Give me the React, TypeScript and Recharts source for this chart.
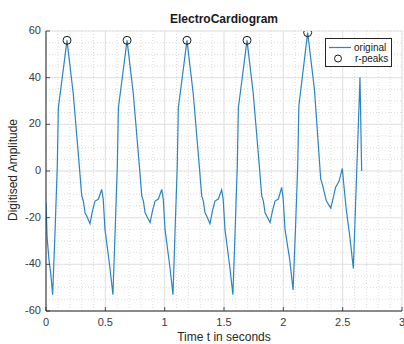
import { ComposedChart, Line, Scatter, XAxis, YAxis, CartesianGrid } from "recharts";

// ECG trace (seconds, digitised amplitude)
const ecgTime = [
  0.0, 0.01, 0.025, 0.04, 0.056,
  0.077, 0.095, 0.104, 0.177, 0.23, 0.281, 0.301, 0.315, 0.329, 0.343, 0.371, 0.392, 0.413, 0.441, 0.469, 0.482, 0.497, 0.537, 0.564,
  0.583, 0.601, 0.61, 0.683, 0.736, 0.787, 0.807, 0.821, 0.835, 0.849, 0.877, 0.898, 0.919, 0.947, 0.975, 0.988, 1.003, 1.043, 1.07,
  1.088, 1.106, 1.115, 1.188, 1.241, 1.292, 1.312, 1.326, 1.34, 1.354, 1.382, 1.403, 1.424, 1.452, 1.48, 1.493, 1.508, 1.548, 1.575,
  1.594, 1.612, 1.621, 1.694, 1.747, 1.798, 1.818, 1.832, 1.846, 1.86, 1.888, 1.909, 1.93, 1.958, 1.986, 1.999, 2.014, 2.054, 2.082,
  2.103, 2.121, 2.131, 2.205, 2.262, 2.315, 2.332, 2.352, 2.363, 2.4, 2.427, 2.44, 2.47, 2.497, 2.51, 2.53, 2.56, 2.59, 2.646, 2.66,
];
const ecgAmp = [
  -13.6, -29, -38, -44, -53,
  -25, 2, 27, 56, 33, 2, -10.7, -12.9, -17.9, -19.3, -22.6, -17, -12.9, -12.1, -7.9, -12, -25, -40.7, -53,
  -25, 2, 27, 56, 33, 2, -10.7, -12.9, -17.9, -19.3, -22.1, -17, -12.9, -12, -7.9, -12, -25, -40.7, -53,
  -25, 2, 27, 56, 33, 2, -10.7, -12.9, -17.9, -19.3, -22.6, -17, -12.9, -12, -8.1, -12, -25, -40.7, -53,
  -25, 2, 27, 56, 33, 2, -10.7, -12.9, -17.9, -19.3, -22.1, -17, -12.9, -12, -7, -12, -25, -38, -51,
  -24, 2, 28, 59.3, 35, -3.4, -6.4, -10.7, -12.9, -15.9, -10, -7.1, -4.3, 1.1, -6, -16.4, -28, -41.8, 40.2, 0,
];

// detected r-peaks
const peakTime = [0.177, 0.683, 1.188, 1.694, 2.205];
const peakAmp = [56, 56, 56, 56, 59.3];

const xTicks = [0, 0.5, 1, 1.5, 2, 2.5, 3];
const yTicks = [-60, -40, -20, 0, 20, 40, 60];

const ecgData = ecgTime.map((t, i) => ({ t, amp: ecgAmp[i] }));
const peakData = peakTime.map((t, i) => ({ t, amp: peakAmp[i] }));

// minor grid (every 0.1 s and every 5 units)
const minorX = Array.from({ length: 31 }, (_, i) => i / 10);
const minorY = Array.from({ length: 25 }, (_, i) => -60 + i * 5);

const FONT = "'Liberation Sans', Arial, Helvetica, sans-serif";
const AX = "#262626";
const TXT = "#3a3a3a";
const BLUE = "#2b85c0";

function BottomTick({ x, y, payload }: any) {
  return (
    <g>
      <line x1={x} x2={x} y1={y} y2={y - 4} stroke={AX} strokeWidth={0.8} />
      <text x={x} y={y + 12} textAnchor="middle" dominantBaseline="middle" fontSize={11} fill={TXT} fontFamily={FONT}>
        {payload.value}
      </text>
    </g>
  );
}

function TopTick({ x, y }: any) {
  return <line x1={x} x2={x} y1={y} y2={y + 4} stroke={AX} strokeWidth={0.8} />;
}

function LeftTick({ x, y, payload }: any) {
  return (
    <g>
      <line x1={x} x2={x + 4} y1={y} y2={y} stroke={AX} strokeWidth={0.8} />
      <text x={x - 5} y={y} textAnchor="end" dominantBaseline="middle" fontSize={11} fill={TXT} fontFamily={FONT}>
        {payload.value}
      </text>
    </g>
  );
}

function RightTick({ x, y }: any) {
  return <line x1={x} x2={x - 4} y1={y} y2={y} stroke={AX} strokeWidth={0.8} />;
}

function PeakMarker({ cx, cy }: any) {
  return <circle cx={cx} cy={cy} r={4} fill="none" stroke="#1a1a1a" strokeWidth={1} />;
}

export default function App() {
  return (
    <div style={{ position: "relative", width: 404, height: 344, background: "#fff", fontFamily: FONT }}>
      <style>{"body{margin:0}"}</style>
      <ComposedChart width={404} height={344} data={ecgData} margin={{ top: 31, right: 2, bottom: 0, left: 0 }}>
        <CartesianGrid verticalValues={minorX} horizontalValues={minorY} stroke="#dcdcdc" strokeDasharray="1 2" />
        <CartesianGrid stroke="#e2e2e2" />
        <XAxis
          dataKey="t"
          type="number"
          domain={[0, 3]}
          ticks={xTicks}
          interval={0}
          allowDataOverflow
          height={33}
          tickSize={0}
          tickMargin={0}
          tick={<BottomTick />}
          axisLine={{ stroke: AX }}
        />
        <XAxis
          xAxisId="top"
          orientation="top"
          dataKey="t"
          type="number"
          domain={[0, 3]}
          ticks={xTicks}
          interval={0}
          allowDataOverflow
          height={0}
          tickSize={0}
          tickMargin={0}
          tick={<TopTick />}
          axisLine={{ stroke: AX }}
        />
        <YAxis
          dataKey="amp"
          type="number"
          domain={[-60, 60]}
          ticks={yTicks}
          interval={0}
          allowDataOverflow
          width={46}
          tickSize={0}
          tickMargin={0}
          tick={<LeftTick />}
          axisLine={{ stroke: AX }}
        />
        <YAxis
          yAxisId="right"
          orientation="right"
          dataKey="amp"
          type="number"
          domain={[-60, 60]}
          ticks={yTicks}
          interval={0}
          allowDataOverflow
          width={0}
          tickSize={0}
          tickMargin={0}
          tick={<RightTick />}
          axisLine={{ stroke: AX }}
        />
        <Line dataKey="amp" stroke={BLUE} strokeWidth={1.2} dot={false} isAnimationActive={false} type="linear" />
        <Scatter data={peakData} dataKey="amp" shape={<PeakMarker />} isAnimationActive={false} />
      </ComposedChart>

      <svg width={404} height={344} style={{ position: "absolute", left: 0, top: 0, pointerEvents: "none" }}>
        <text x={224} y={20} textAnchor="middle" dominantBaseline="middle" fontSize={12} fontWeight="bold" fill="#1a1a1a" fontFamily={FONT}>
          ElectroCardiogram
        </text>
        <text x={224} y={338} textAnchor="middle" dominantBaseline="middle" fontSize={12} fill="#262626" fontFamily={FONT}>
          Time t in seconds
        </text>
        <text
          x={14}
          y={170}
          transform="rotate(-90 14 170)"
          textAnchor="middle"
          dominantBaseline="middle"
          fontSize={12}
          fill="#262626"
          fontFamily={FONT}
        >
          Digitised Amplitude
        </text>
        <g>
          <rect x={325.5} y={38.5} width={66} height={28} fill="#fff" stroke={AX} strokeWidth={1} />
          <line x1={329} x2={351} y1={47.5} y2={47.5} stroke={BLUE} strokeWidth={1.2} />
          <text x={354} y={48} dominantBaseline="middle" fontSize={10} fill="#1a1a1a" fontFamily={FONT}>
            original
          </text>
          <circle cx={338} cy={58.5} r={3.5} fill="none" stroke="#1a1a1a" strokeWidth={1} />
          <text x={355} y={59} dominantBaseline="middle" fontSize={10} fill="#1a1a1a" fontFamily={FONT}>
            r-peaks
          </text>
        </g>
      </svg>
    </div>
  );
}
